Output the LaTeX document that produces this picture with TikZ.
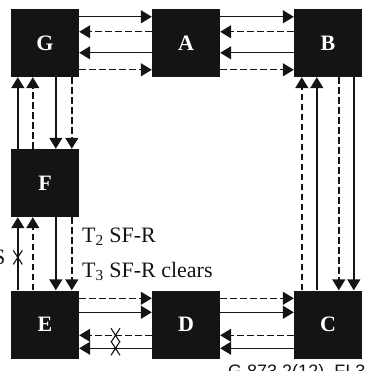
\documentclass[tikz,border=0pt]{standalone}
\usepackage{fontspec}
\setmainfont{Liberation Serif}
\newfontfamily\figsans{Liberation Sans}
\usetikzlibrary{arrows.meta, positioning}
\definecolor{ink}{HTML}{141414}
\tikzset{
  blk/.style={fill=ink, minimum width=68pt, minimum height=68pt, inner sep=0pt,
    text=white, font=\bfseries\fontsize{22}{22}\selectfont},
  sol/.style={-{Triangle[length=11pt, width=13pt]}, line width=1.4pt, ink},
  dsh/.style={sol, dash pattern=on 6.5pt off 3.5pt},
  xmk/.style={line width=1.1pt, ink},
  lbl/.style={font=\fontsize{22}{22}\selectfont, inner sep=0pt, text=ink},
}
\begin{document}
\begin{tikzpicture}[x=1pt, y=-1pt]
  \useasboundingbox (0,0) rectangle (374,371);
  % network elements
  \node[blk] (G) at (45,43) {G};
  \node[blk] (A) at (186,43) {A};
  \node[blk] (B) at (328,43) {B};
  \node[blk] (F) at (45,183) {F};
  \node[blk] (E) at (45,324.5) {E};
  \node[blk] (D) at (186,324.5) {D};
  \node[blk] (C) at (328,324.5) {C};
  % top row: G - A - B
  \draw[sol] ([yshift=-8pt]G.north east) -- ([yshift=-8pt]A.north west);
  \draw[dsh] ([yshift=-23pt]A.north west) -- ([yshift=-23pt]G.north east);
  \draw[sol] ([yshift=-44pt]A.north west) -- ([yshift=-44pt]G.north east);
  \draw[dsh] ([yshift=-61pt]G.north east) -- ([yshift=-61pt]A.north west);
  \draw[sol] ([yshift=-8pt]A.north east) -- ([yshift=-8pt]B.north west);
  \draw[dsh] ([yshift=-23pt]B.north west) -- ([yshift=-23pt]A.north east);
  \draw[sol] ([yshift=-44pt]B.north west) -- ([yshift=-44pt]A.north east);
  \draw[dsh] ([yshift=-61pt]A.north east) -- ([yshift=-61pt]B.north west);
  % left column: G - F - E
  \draw[sol] ([xshift=7pt]F.north west) -- ([xshift=7pt]G.south west);
  \draw[dsh] ([xshift=22pt]F.north west) -- ([xshift=22pt]G.south west);
  \draw[sol] ([xshift=45pt]G.south west) -- ([xshift=45pt]F.north west);
  \draw[dsh] ([xshift=61pt]G.south west) -- ([xshift=61pt]F.north west);
  \draw[sol] ([xshift=7pt]E.north west) -- coordinate[pos=0.45] (cutFE) ([xshift=7pt]F.south west);
  \draw[dsh] ([xshift=22pt]E.north west) -- ([xshift=22pt]F.south west);
  \draw[sol] ([xshift=45pt]F.south west) -- ([xshift=45pt]E.north west);
  \draw[dsh] ([xshift=61pt]F.south west) -- ([xshift=61pt]E.north west);
  % right column: B - C
  \draw[dsh] ([xshift=8pt]C.north west) -- ([xshift=8pt]B.south west);
  \draw[sol] ([xshift=23pt]C.north west) -- ([xshift=23pt]B.south west);
  \draw[dsh] ([xshift=45pt]B.south west) -- ([xshift=45pt]C.north west);
  \draw[sol] ([xshift=60pt]B.south west) -- ([xshift=60pt]C.north west);
  % bottom row: E - D - C
  \draw[dsh] ([yshift=-8pt]E.north east) -- ([yshift=-8pt]D.north west);
  \draw[sol] ([yshift=-22pt]E.north east) -- ([yshift=-22pt]D.north west);
  \draw[dsh] ([yshift=-45pt]D.north west) -- coordinate[pos=0.5] (cutDEa) ([yshift=-45pt]E.north east);
  \draw[sol] ([yshift=-58pt]D.north west) -- coordinate[pos=0.5] (cutDEb) ([yshift=-58pt]E.north east);
  \draw[dsh] ([yshift=-8pt]D.north east) -- ([yshift=-8pt]C.north west);
  \draw[sol] ([yshift=-22pt]D.north east) -- ([yshift=-22pt]C.north west);
  \draw[dsh] ([yshift=-45pt]C.north west) -- ([yshift=-45pt]D.north east);
  \draw[sol] ([yshift=-58pt]C.north west) -- ([yshift=-58pt]D.north east);
  % fault marks
  \foreach \c in {cutFE, cutDEa, cutDEb}
    \draw[xmk] (\c) ++(-4.5,-7) -- ++(9,14) (\c) ++(4.5,-7) -- ++(-9,14);
  % labels
  \node[lbl, anchor=base west] (t2) at (82,242) {T\textsubscript{2} SF-R};
  \node[lbl, anchor=base west] (t3) at (82,277) {T\textsubscript{3} SF-R clears};
  \node[lbl, anchor=base east] (los) at (5.5,264) {S};
  \node[anchor=base west, inner sep=0pt, text=ink, font=\figsans\fontsize{18}{18}\selectfont] (fig) at (228,377) {G.873.2(12)\_FI.3};
\end{tikzpicture}
\end{document}
